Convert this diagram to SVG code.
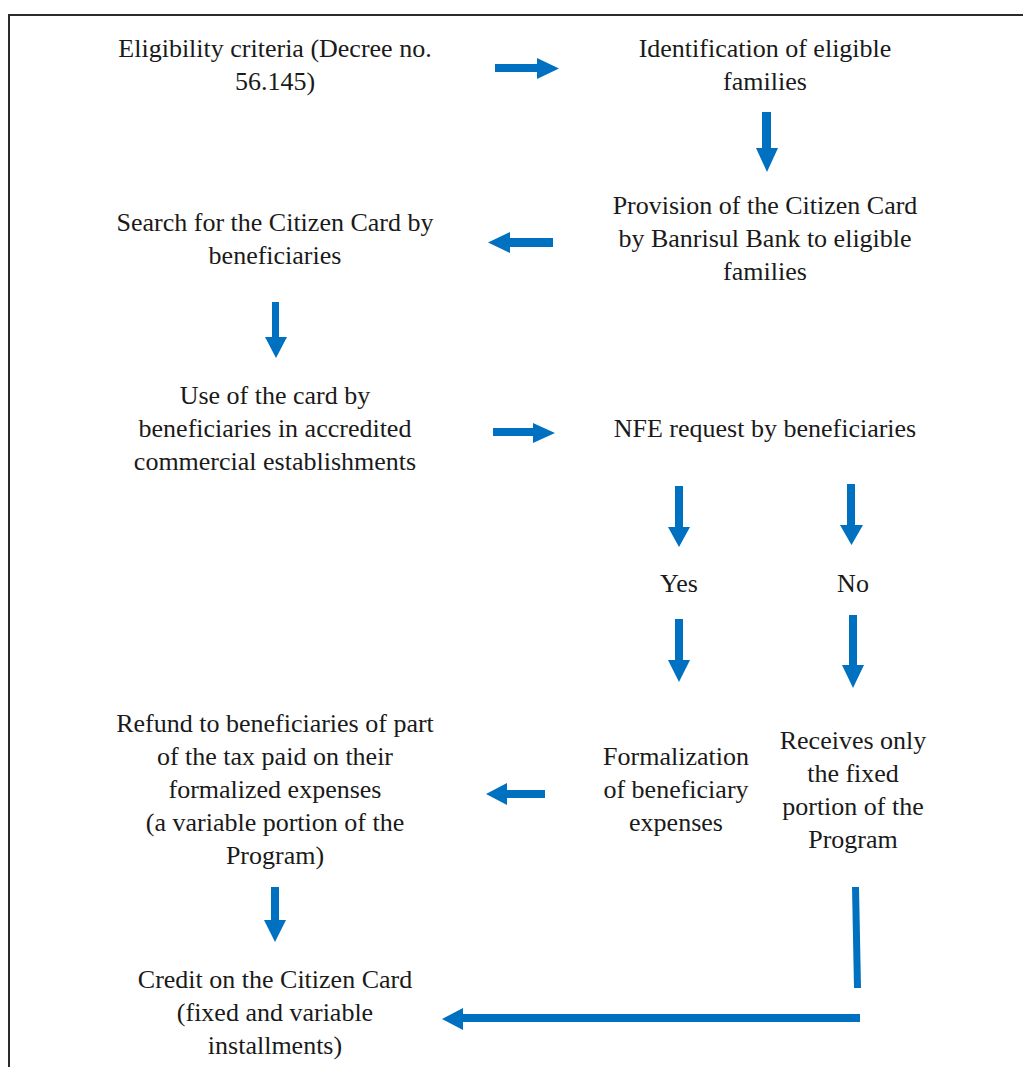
<svg xmlns="http://www.w3.org/2000/svg" width="1023" height="1067" viewBox="0 0 1023 1067">
<style>
.bg{fill:#ffffff}
.frame{fill:none;stroke:#2b2b2b;stroke-width:2}
.t{font-family:"Liberation Serif","Times New Roman",serif;font-size:26px;fill:#1a1a1a;text-anchor:middle}
.a{fill:#0070C0;stroke:none}
</style>
<rect class="bg" x="0" y="0" width="1023" height="1067"/>
<path class="frame" d="M9,1068 V15 H1024"/>
<g id="n-eligibility">
<text class="t" x="275" y="57">Eligibility criteria (Decree no.</text>
<text class="t" x="275" y="90">56.145)</text>
</g>
<g id="n-identification">
<text class="t" x="765" y="57">Identification of eligible</text>
<text class="t" x="765" y="90">families</text>
</g>
<g id="n-provision">
<text class="t" x="765" y="214">Provision of the Citizen Card</text>
<text class="t" x="765" y="247">by Banrisul Bank to eligible</text>
<text class="t" x="765" y="280">families</text>
</g>
<g id="n-search">
<text class="t" x="275" y="231">Search for the Citizen Card by</text>
<text class="t" x="275" y="264">beneficiaries</text>
</g>
<g id="n-use">
<text class="t" x="275" y="404">Use of the card by</text>
<text class="t" x="275" y="437">beneficiaries in accredited</text>
<text class="t" x="275" y="470">commercial establishments</text>
</g>
<g id="n-nfe">
<text class="t" x="765" y="437">NFE request by beneficiaries</text>
</g>
<g id="n-yes">
<text class="t" x="679" y="592">Yes</text>
</g>
<g id="n-no">
<text class="t" x="853" y="592">No</text>
</g>
<g id="n-refund">
<text class="t" x="275" y="732">Refund to beneficiaries of part</text>
<text class="t" x="275" y="765">of the tax paid on their</text>
<text class="t" x="275" y="798">formalized expenses</text>
<text class="t" x="275" y="831">(a variable portion of the</text>
<text class="t" x="275" y="864">Program)</text>
</g>
<g id="n-formalization">
<text class="t" x="676" y="765">Formalization</text>
<text class="t" x="676" y="798">of beneficiary</text>
<text class="t" x="676" y="831">expenses</text>
</g>
<g id="n-receives">
<text class="t" x="853" y="749">Receives only</text>
<text class="t" x="853" y="782">the fixed</text>
<text class="t" x="853" y="815">portion of the</text>
<text class="t" x="853" y="848">Program</text>
</g>
<g id="n-credit">
<text class="t" x="275" y="988">Credit on the Citizen Card</text>
<text class="t" x="275" y="1021">(fixed and variable</text>
<text class="t" x="275" y="1054">installments)</text>
</g>
<g id="connectors">
<polygon class="a" points="495,64 537,64 537,58 559,68.5 537,79 537,72 495,72"/>
<polygon class="a" points="762,112 771,112 771,148 778,148 767,172 756,148 762,148"/>
<polygon class="a" points="553,238 510,238 510,232 488,242.5 510,253 510,247 553,247"/>
<polygon class="a" points="272,302 279,302 279,337 287,337 276,358 265,337 272,337"/>
<polygon class="a" points="493,428 533,428 533,423 555,433 533,443 533,436 493,436"/>
<polygon class="a" points="675,486 683,486 683,527 690,527 679,547 668,527 675,527"/>
<polygon class="a" points="847,484 855,484 855,525 863,525 851.5,545 840,525 847,525"/>
<polygon class="a" points="675,619 683,619 683,660 690,660 679,682 668,660 675,660"/>
<polygon class="a" points="849,615 857,615 857,665 864,665 853,688 842,665 849,665"/>
<polygon class="a" points="545,790 507,790 507,783 486,794 507,805 507,798 545,798"/>
<polygon class="a" points="271,887 279,887 279,920 286,920 275,942 264,920 271,920"/>
<polygon class="a" points="852,887 859,887 861,988 854,988"/>
<polygon class="a" points="860,1014 463,1014 463,1008 442,1019 463,1030 463,1022 860,1022"/>
</g>
</svg>
